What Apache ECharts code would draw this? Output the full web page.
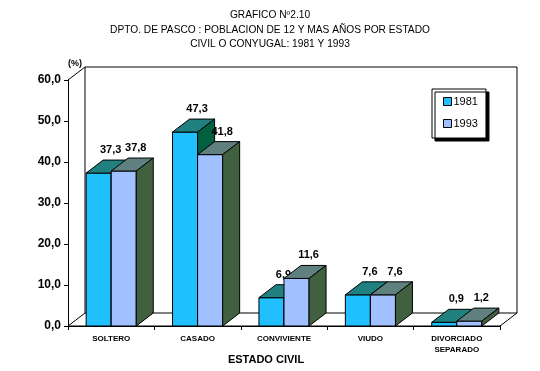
<!DOCTYPE html>
<html>
<head>
<meta charset="utf-8">
<script src="https://cdn.jsdelivr.net/npm/echarts@6/dist/echarts.min.js"></script>
<style>html,body{margin:0;padding:0;background:#fff}#c{width:540px;height:371px}</style>
</head>
<body>
<div id="c"></div>
<script>
var categories = ['SOLTERO', 'CASADO', 'CONVIVIENTE', 'VIUDO', 'DIVORCIADO\nSEPARADO'];
var values1981 = [37.3, 47.3, 6.9, 7.6, 0.9];
var values1993 = [37.8, 41.8, 11.6, 7.6, 1.2];
var seriesNames = ['1981', '1993'];
var titleLines = ['GRAFICO Nº2.10', 'DPTO. DE PASCO : POBLACION DE 12 Y MAS AÑOS POR ESTADO', 'CIVIL O CONYUGAL: 1981 Y 1993'];

var FONT = "'Liberation Sans', Arial, sans-serif";
var DX = 17, DY = 13;
var styles = [
  {front: '#20c0ff', top: '#208080', side: '#006040'},
  {front: '#a0c0ff', top: '#608080', side: '#406040'}
];
function fmt(v) { return v.toFixed(1).replace('.', ','); }

function barRenderer(si) {
  return function (params, api) {
    var cat = api.value(0), v = api.value(1);
    var top = api.coord([cat, v]);
    var base = api.coord([cat, 0]);
    var bw = api.size([1, 0])[0] * 0.29;
    var x0 = si === 0 ? top[0] - bw : top[0];
    var x1 = x0 + bw;
    var ty = top[1], by = base[1];
    var st = styles[si];
    var line = {stroke: '#000', lineWidth: 1};
    return {
      type: 'group',
      children: [
        {type: 'rect', shape: {x: x0, y: ty, width: bw, height: by - ty},
          style: Object.assign({fill: st.front}, line)},
        {type: 'polygon', shape: {points: [[x0, ty], [x1, ty], [x1 + DX, ty - DY], [x0 + DX, ty - DY]]},
          style: Object.assign({fill: st.top}, line)},
        {type: 'polygon', shape: {points: [[x1, ty], [x1 + DX, ty - DY], [x1 + DX, by - DY], [x1, by]]},
          style: Object.assign({fill: st.side}, line)},
        {type: 'text', x: (x0 + x1) / 2 + 12, y: ty - 23,
          style: {text: fmt(v), fill: '#000', font: 'bold 11px ' + FONT, align: 'center', verticalAlign: 'middle'}}
      ]
    };
  };
}

function frameRenderer(params, api) {
  var cs = params.coordSys;
  var x = cs.x, y = cs.y, w = cs.width, h = cs.height;
  var line = {stroke: '#000', lineWidth: 1, fill: null};
  return {
    type: 'group',
    children: [
      {type: 'polygon', shape: {points: [[x, y + h], [x + w, y + h], [x + w + DX, y + h - DY], [x + DX, y + h - DY]]},
        style: {fill: '#fff', stroke: '#000', lineWidth: 1}},
      {type: 'polyline', shape: {points: [[x + DX, y + h - DY], [x + DX, y - DY], [x + w + DX, y - DY], [x + w + DX, y + h - DY]]},
        style: line},
      {type: 'line', shape: {x1: x, y1: y, x2: x + DX, y2: y - DY}, style: line}
    ]
  };
}

var chart = echarts.init(document.getElementById('c'), null, {renderer: 'canvas'});
chart.setOption({
  backgroundColor: '#fff',
  animation: false,
  title: {
    text: titleLines.join('\n'),
    left: 'center', top: 3,
    textStyle: {fontFamily: FONT, fontSize: 10.2, fontWeight: 'normal', color: '#000', lineHeight: 14.5}
  },
  legend: {
    orient: 'vertical',
    left: 432, top: 89,
    padding: [7, 8, 9, 11],
    itemGap: 11,
    itemWidth: 8, itemHeight: 8,
    backgroundColor: '#fff',
    borderColor: '#000', borderWidth: 1,
    shadowColor: '#000', shadowBlur: 0, shadowOffsetX: 3, shadowOffsetY: 3,
    textStyle: {fontFamily: FONT, fontSize: 11, color: '#000', padding: [0, 0, 0, -3]},
    data: [
      {name: seriesNames[0], icon: 'rect', itemStyle: {color: styles[0].front, borderColor: '#000', borderWidth: 1}},
      {name: seriesNames[1], icon: 'rect', itemStyle: {color: styles[1].front, borderColor: '#000', borderWidth: 1}}
    ]
  },
  grid: {left: 68, right: 40, top: 80, bottom: 45, containLabel: false, outerBoundsMode: 'none'},
  xAxis: {
    type: 'category',
    data: categories,
    boundaryGap: true,
    name: 'ESTADO CIVIL',
    nameLocation: 'middle',
    nameGap: 28,
    nameMoveOverlap: false,
    nameTextStyle: {fontFamily: FONT, fontSize: 11, fontWeight: 'bold', color: '#000', padding: [0, 36, 0, 0]},
    axisLine: {lineStyle: {color: '#000', width: 1}},
    axisTick: {show: true, length: 4, lineStyle: {color: '#000'}},
    axisLabel: {fontFamily: FONT, fontSize: 8, fontWeight: 'bold', color: '#000', margin: 7, lineHeight: 11, interval: 0},
    splitLine: {show: false}
  },
  yAxis: {
    type: 'value',
    min: 0, max: 60, interval: 10,
    name: '(%)',
    nameLocation: 'end',
    nameGap: 12,
    nameTextStyle: {fontFamily: FONT, fontSize: 9, fontWeight: 'bold', color: '#000', align: 'left'},
    axisLine: {show: true, lineStyle: {color: '#000', width: 1}},
    axisTick: {show: true, length: 4, lineStyle: {color: '#000'}},
    axisLabel: {fontFamily: FONT, fontSize: 12, fontWeight: 'bold', color: '#000', margin: 7, formatter: function (v) { return fmt(v); }},
    splitLine: {show: false}
  },
  series: [
    {type: 'custom', name: 'frame', renderItem: frameRenderer, data: [[0, 0]], z: 1, silent: true, legendHoverLink: false},
    {type: 'custom', name: seriesNames[0], renderItem: barRenderer(0), itemStyle: {color: styles[0].front},
      data: values1981.map(function (v, i) { return [i, v]; }), z: 2},
    {type: 'custom', name: seriesNames[1], renderItem: barRenderer(1), itemStyle: {color: styles[1].front},
      data: values1993.map(function (v, i) { return [i, v]; }), z: 3}
  ]
});
</script>
</body>
</html>
